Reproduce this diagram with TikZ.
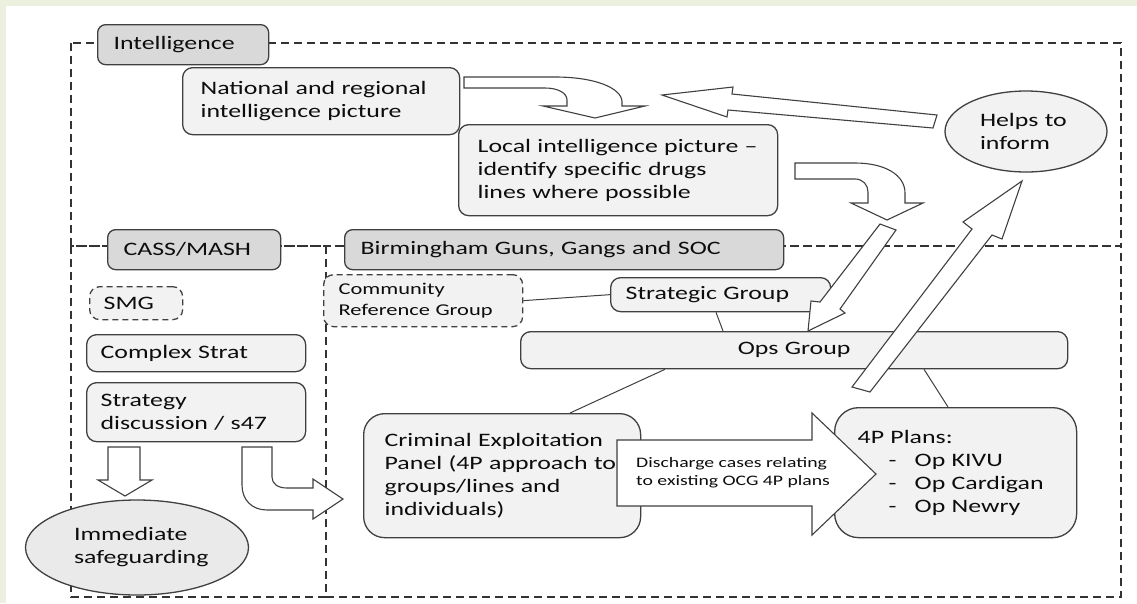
\documentclass[tikz,border=0pt]{standalone}
\usepackage{fontspec}
\setmainfont{Carlito}[FakeStretch=1.36]
\usetikzlibrary{calc,shapes.geometric}
\definecolor{bggreen}{HTML}{EBF1DE}
\definecolor{hdrfill}{HTML}{D9D9D9}
\definecolor{boxfill}{HTML}{F2F2F2}
\definecolor{ellfill}{HTML}{EAEAEA}
\definecolor{linec}{HTML}{404040}
\definecolor{framec}{HTML}{333333}
\definecolor{txtc}{HTML}{0D0D0D}
\newcommand\fmain{\fontsize{19pt}{23pt}\selectfont}
\newcommand\fcrg{\fontsize{16.5pt}{21pt}\selectfont}
\newcommand\fdis{\fontsize{14.5pt}{18pt}\selectfont}
\begin{document}
\begin{tikzpicture}[x=1pt,y=-1pt,
  frame/.style={draw=framec,line width=1.2pt,dash pattern=on 8pt off 5pt},
  hdr/.style={draw=linec,fill=hdrfill,line width=1.3pt,rounded corners=8pt,anchor=north west,align=left,text=txtc,font=\fmain,inner ysep=0pt},
  lbox/.style={draw=linec,fill=boxfill,line width=1.3pt,rounded corners=10pt,anchor=north west,align=left,text=txtc,font=\fmain,inner ysep=0pt},
  dbox/.style={lbox,dash pattern=on 6pt off 4pt},
  ell/.style={ellipse,draw=linec,line width=1.3pt,align=left,text=txtc,font=\fmain,inner sep=0pt},
  conn/.style={draw=linec,line width=1pt},
  barrow/.style={draw=linec,fill=white,line width=1.1pt,line join=miter},
]
\useasboundingbox (0,0) rectangle (1137,603);
\fill[bggreen] (0,0) rectangle (1137,603);
\fill[white] (6,6) rectangle (1137,603);

% frames
\draw[frame] (71,43) rectangle (1121,246);
\draw[frame] (71,246) rectangle (326,597);
\draw[frame] (326,246) rectangle (1121,597);
\draw[frame,line width=2.2pt] (326,597) -- (1121,597);

% headers
\node[hdr,minimum width=171pt,minimum height=40pt,text width=139pt,inner xsep=16pt] (intel) at (97,24) {Intelligence};
\node[hdr,minimum width=173pt,minimum height=40pt,text width=141pt,inner xsep=16pt] (cass) at (107,229) {CASS/MASH};
\node[hdr,minimum width=439pt,minimum height=40pt,text width=407pt,inner xsep=16pt] (bham) at (344,229) {Birmingham Guns, Gangs and SOC};

% boxes
\node[lbox,minimum width=277pt,minimum height=67pt,text width=241pt,inner xsep=18pt] (nat) at (182,67) {National and regional\\intelligence picture};
\node[lbox,minimum width=319pt,minimum height=91pt,text width=281pt,inner xsep=19pt] (loc) at (458,124) {Local intelligence picture --\\identify specific drugs\\lines where possible};
\node[ell,fill=boxfill,minimum width=162pt,minimum height=81pt,text width=92pt] (helps) at (1026,131.5) {Helps to\\inform};
\node[dbox,font=\fcrg,minimum width=199pt,minimum height=52pt,text width=169pt,inner xsep=15pt] (crg) at (323,274) {Community\\Reference Group};
\node[lbox,minimum width=220pt,minimum height=34pt,text width=190pt,inner xsep=15pt] (sg) at (610,277) {Strategic Group};
\node[lbox,align=center,minimum width=547pt,minimum height=37pt,text width=517pt,inner xsep=15pt] (ops) at (520,331) {Ops Group};
\node[dbox,minimum width=93pt,minimum height=33pt,text width=65pt,inner xsep=14pt] (smg) at (89,286) {SMG};
\node[lbox,minimum width=219pt,minimum height=37pt,text width=191pt,inner xsep=14pt] (cs) at (86,334) {Complex Strat};
\node[lbox,minimum width=219pt,minimum height=59pt,text width=191pt,inner xsep=14pt] (sd) at (86,382) {Strategy\\discussion / s47};
\node[ell,fill=ellfill,minimum width=223pt,minimum height=95pt,text width=126pt] (imm) at (137,547.5) {Immediate\\safeguarding};
\node[lbox,rounded corners=21pt,minimum width=277pt,minimum height=124pt,text width=235pt,inner xsep=21pt] (cep) at (363,413) {Criminal Exploitation\\Panel (4P approach to\\groups/lines and\\individuals)};
\node[lbox,rounded corners=24pt,minimum width=242pt,minimum height=130pt,text width=196pt,inner xsep=23pt] (plans) at (834,407) {4P Plans:\\\makebox[57pt][l]{\hspace*{31pt}-}Op KIVU\\\makebox[57pt][l]{\hspace*{31pt}-}Op Cardigan\\\makebox[57pt][l]{\hspace*{31pt}-}Op Newry};

% connectors
\draw[conn] (crg.east) -- (sg.west);
\draw[conn] ($(sg.south west)+(106,0)$) -- ($(ops.north west)+(203,0)$);
\draw[conn] ($(ops.south west)+(145,0)$) -- ($(cep.north west)+(207,0)$);
\draw[conn] ($(ops.south west)+(404,0)$) -- ($(plans.north west)+(114,0)$);

% block arrows
% national -> local (curved down)
\draw[barrow] (464,77) -- (555,77) .. controls (595,77) and (622,88) .. (622,102) -- (622,106) -- (645,106) -- (595,118) -- (543,106) -- (567,106) -- (567,100) .. controls (567,93) and (558,88) .. (545,88) -- (464,88) -- cycle;
% helps -> left
\draw[barrow] (662,95) -- (733,87) -- (732,94) -- (937,115) -- (933,128) -- (728,110) -- (727,117) -- cycle;
% local -> down right (curved)
\draw[barrow] (795,163) -- (855,163) .. controls (885,163) and (905,175) .. (905,193) -- (905,203) -- (923,203) -- (887,220) -- (851,203) -- (868,203) -- (868,192) .. controls (868,185) and (863,179) .. (855,179) -- (795,179) -- cycle;
% down-left to ops
\draw[barrow] (880,224) -- (896,230) -- (840,309) -- (845,313) -- (808,331) -- (811,301) -- (820,302) -- cycle;
% up-right to helps
\draw[barrow] (852,387) -- (972,229) -- (963,222) -- (1022,181) -- (1002,239) -- (992,235) -- (870,392) -- cycle;
% strategy -> immediate
\draw[barrow] (108,447) -- (140,447) -- (140,480) -- (152,480) -- (125,496) -- (98,480) -- (108,480) -- cycle;
% strategy -> criminal panel (curved)
\draw[barrow] (242,447) -- (272,447) -- (272,477) .. controls (272,484) and (278,488) .. (287,488) -- (313,488) -- (313,479) -- (343,499) -- (313,519) -- (313,510) -- (267,510) .. controls (252,510) and (242,500) .. (242,485) -- cycle;
% discharge arrow
\draw[barrow] (617,440) -- (812,440) -- (812,413) -- (876,474) -- (812,535) -- (812,506) -- (617,506) -- cycle;
\node[anchor=west,align=left,font=\fdis,text=txtc,inner sep=0pt] (dtext) at (636,473) {Discharge cases relating\\to existing OCG 4P plans};
\end{tikzpicture}
\end{document}
